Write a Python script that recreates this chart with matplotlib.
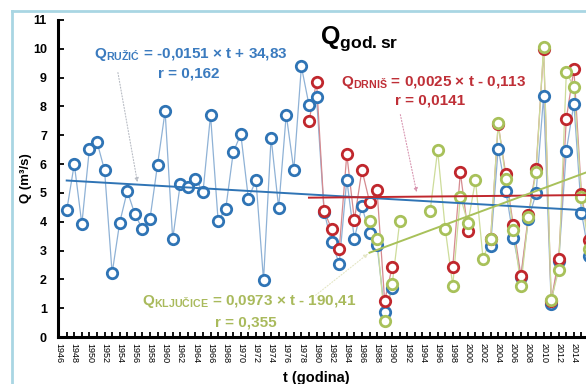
import numpy as np
import matplotlib
matplotlib.use("Agg")
import matplotlib.pyplot as plt
from matplotlib.lines import Line2D

nan = np.nan

# years shown on the chart
years = list(range(1947, 2017))

# Q Ružić
q_ruzic = [4.39, 6.00, 3.92, 6.54, 6.77, 5.79, 2.21, 3.97, 5.06, 4.27,   # 1947-1956
           3.74, 4.10, 5.98, 7.83, 3.40, 5.31, 5.22, 5.50, 5.02, 7.70,   # 1957-1966
           4.04, 4.43, 6.41, 7.04, 4.80, 5.45, 1.97, 6.92, 4.48, 7.72,   # 1967-1976
           5.79, 9.39, 8.06, 8.32, 4.35, 3.28, 2.55, 5.46, 3.41, 4.53,   # 1977-1986
           3.60, 3.18, 0.87, 1.69, nan, nan, nan, nan, nan, nan,         # 1987-1996
           nan, nan, nan, nan, nan, nan, 3.16, 6.54, 5.08, 3.45,         # 1997-2006
           2.07, 4.09, 4.98, 8.37, 1.16, 2.65, 6.46, 8.09, 4.32, 2.81]   # 2007-2016

# Q Drniš
q_drnis = [nan] * 32 + [
           7.48, 8.85, 4.38, 3.74, 3.04, 6.34, 4.06, 5.80,               # 1979-1986
           4.70, 5.09, 1.25, 2.44, nan, nan, nan, nan, nan, nan,         # 1987-1996
           nan, 2.43, 5.71, 3.69, nan, nan, 3.40, 7.38, 5.65, 3.87,      # 1997-2006
           2.12, 4.25, 5.83, 9.98, 1.26, 2.72, 7.58, 9.29, 4.97, 3.37]   # 2007-2016

# Q Ključice
q_kljucice = [nan] * 40 + [
           4.04, 3.41, 0.57, 1.84, 4.02, nan, nan, nan, 4.36, 6.48,      # 1987-1996
           3.76, 1.78, 4.87, 3.95, 5.44, 2.72, 3.40, 7.41, 5.50, 3.72,   # 1997-2006
           1.78, 4.17, 5.72, 10.08, 1.28, 2.33, 9.19, 8.67, 4.86, 3.05]  # 2007-2016

# trend line coefficients (slope, intercept) and start year
trend_ruzic = (-0.0151, 34.83, 1947)
trend_drnis = (0.0025, -0.113, 1979)
trend_kljucice = (0.0973, -190.41, 1987)

BLUE = "#2f74b5"
BLUE_L = "#8fb2d6"
BLUE_T = "#3b7bbf"
RED = "#c0272d"
RED_L = "#d58a8f"
RED_T = "#bf2f37"
GREEN = "#a8c15a"
GREEN_L = "#cddc9a"
GREEN_T = "#a9ba5c"

plt.rcParams['font.family'] = ['Liberation Sans', 'DejaVu Sans']
plt.rcParams['mathtext.fontset'] = 'custom'
plt.rcParams['mathtext.rm'] = 'Liberation Sans'
plt.rcParams['mathtext.bf'] = 'Liberation Sans:bold'

W, H = 586, 384
fig = plt.figure(figsize=(W / 100, H / 100), dpi=100)

x0, x1 = 1945.85, 2017.5
pxyear = 7.57
ax_left = 58 / W
ax_wpx = (x1 - x0) * pxyear
ax_bot = (H - 337) / H
ax_h = 317 / H
ax = fig.add_axes([ax_left, ax_bot, ax_wpx / W, ax_h])

# light blue frame of the original figure
fig.add_artist(Line2D([12 / W, 12 / W], [0, 1 - 11 / H], color="#a9d6e3", lw=2))
fig.add_artist(Line2D([12 / W, 1], [1 - 11 / H, 1 - 11 / H], color="#a9d6e3", lw=2))

yrs = np.array(years)
for vals, col, lcol in [(q_ruzic, BLUE, BLUE_L), (q_drnis, RED, RED_L), (q_kljucice, GREEN, GREEN_L)]:
    v = np.array(vals, dtype=float)
    ax.plot(yrs, v, color=lcol, lw=0.9, zorder=2)
    ax.plot(yrs, v, ls='none', marker='o', ms=7.5, mew=2.0, mec=col, mfc='white', zorder=3)

for (k, n, start), col in [(trend_ruzic, BLUE), (trend_drnis, RED), (trend_kljucice, GREEN)]:
    tx = np.array([start, 2017.5])
    ax.plot(tx, k * tx + n, color=col, lw=1.4, zorder=4)

# annotations
fs = 11
ax.text(1950.6, 9.79, '$\\mathbf{Q}_{\\mathbf{RUŽIĆ}}$ = -0,0151 × t + 34,83',
        color=BLUE_T, fontsize=fs, fontweight='bold', va='center', ha='left')
ax.text(1967.2, 9.15, 'r = 0,162', color=BLUE_T, fontsize=fs, fontweight='bold',
        va='center', ha='right')
ax.text(1983.3, 8.82, '$\\mathbf{Q}_{\\mathbf{DRNIŠ}}$ = 0,0025 × t - 0,113',
        color=RED_T, fontsize=fs, fontweight='bold', va='center', ha='left')
ax.text(1999.6, 8.2, 'r = 0,0141', color=RED_T, fontsize=fs, fontweight='bold',
        va='center', ha='right')
ax.text(1956.9, 1.22, '$\\mathbf{Q}_{\\mathbf{KLJUČICE}}$ = 0,0973 × t - 190,41',
        color=GREEN_T, fontsize=fs, fontweight='bold', va='center', ha='left')
ax.text(1974.7, 0.5, 'r = 0,355', color=GREEN_T, fontsize=fs, fontweight='bold',
        va='center', ha='right')
ax.text(1980.4, 10.35, '$\\mathbf{Q}_{\\mathbf{god.sr}}$', color='black', fontsize=18,
        va='center', ha='left')

arrow_kw = dict(arrowstyle='-|>', lw=0.8, ls=':', mutation_scale=6)
ax.annotate('', xy=(1956.4, 5.28), xytext=(1953.7, 9.27),
            arrowprops=dict(color='#b8bcc4', **arrow_kw))
ax.annotate('', xy=(1993.3, 4.93), xytext=(1991.0, 7.81),
            arrowprops=dict(color='#d895b0', **arrow_kw))
ax.annotate('', xy=(1987.1, 2.95), xytext=(1979.6, 1.39),
            arrowprops=dict(color='#e4e6c4', **arrow_kw))

ax.set_xlim(x0, x1)
ax.set_ylim(0, 11)
ax.set_yticks(range(0, 12))
ax.set_yticklabels([str(i) for i in range(0, 12)], fontsize=9, fontweight='bold')
ticks = list(range(1946, 2018))
ax.set_xticks(ticks)
ax.set_xticklabels([str(t) if (t % 2 == 0 and t <= 2014) else '' for t in ticks],
                   rotation=-90, fontsize=6.5)
ax.tick_params(axis='y', direction='in', length=4, width=1.3, pad=8)
ax.tick_params(axis='x', direction='in', length=3.5, width=1.3, pad=4)

for s in ['top', 'right']:
    ax.spines[s].set_visible(False)
for s in ['left', 'bottom']:
    ax.spines[s].set_linewidth(2.2)

ax.set_ylabel('Q (m³/s)', fontsize=9.5, fontweight='bold')
ax.yaxis.set_label_coords((32 - 58) / ax_wpx, 0.5)
fig.text(316 / W, 1 - 378 / H, 't (godina)', fontsize=10.5, fontweight='bold',
         ha='center', va='center')

fig.savefig('out.png', dpi=100)
